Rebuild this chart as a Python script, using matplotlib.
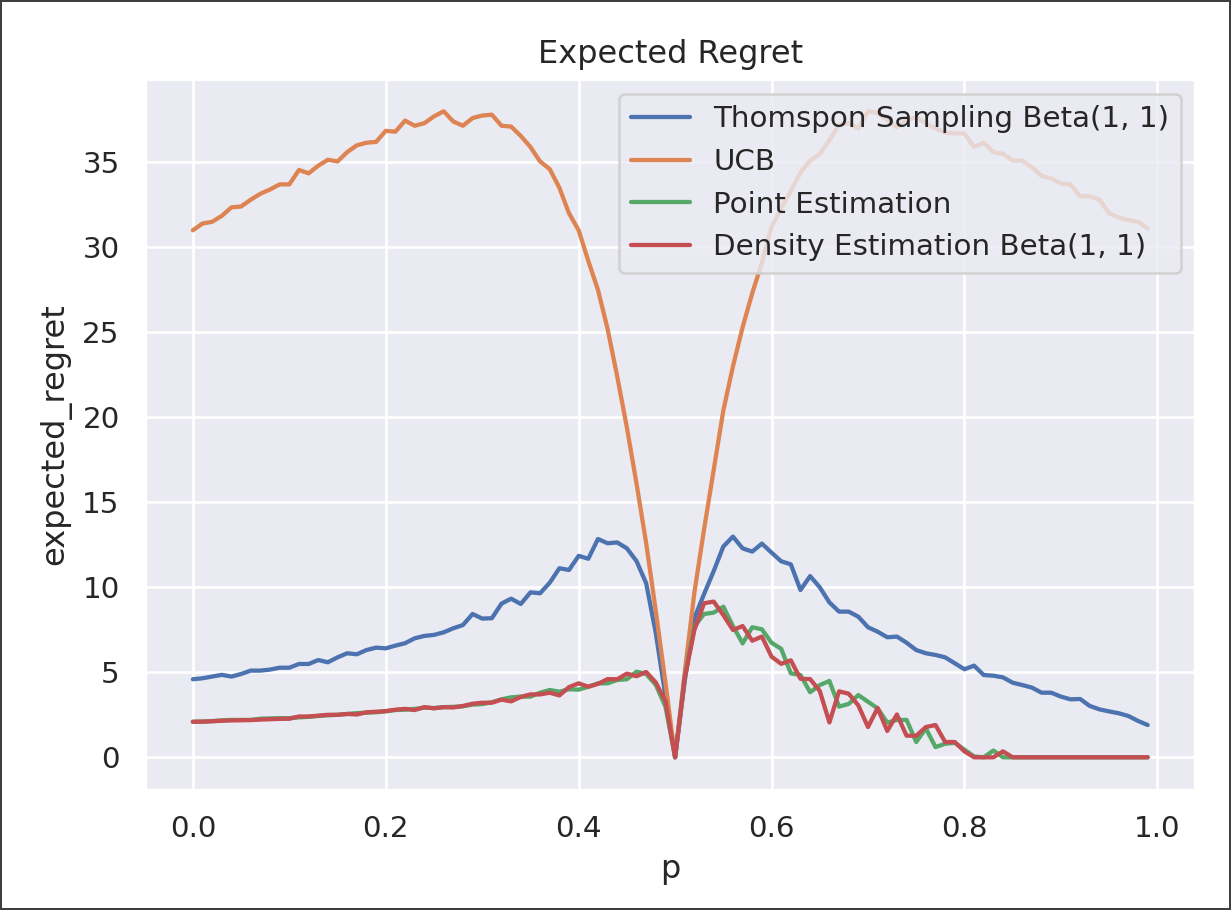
"""
Expected regret of the bandit strategies as a function of p.
"""

import matplotlib
matplotlib.use('Agg')
import matplotlib.pyplot as plt
import numpy as np
import seaborn as sns

p_values = np.arange(100) / 100

thompson = [
    4.59, 4.65, 4.75, 4.85, 4.75, 4.90, 5.10, 5.10, 5.16, 5.27,
    5.27, 5.49, 5.49, 5.72, 5.59, 5.88, 6.12, 6.06, 6.31, 6.45,
    6.41, 6.57, 6.71, 7.00, 7.14, 7.20, 7.35, 7.59, 7.78, 8.43,
    8.16, 8.18, 9.04, 9.33, 9.02, 9.70, 9.65, 10.27, 11.12, 11.02,
    11.85, 11.68, 12.84, 12.59, 12.64, 12.29, 11.54, 10.24, 7.30, 3.60,
    0.00, 4.50, 8.20, 9.60, 10.95, 12.40, 12.98, 12.29, 12.10, 12.57,
    12.04, 11.53, 11.35, 9.84, 10.66, 10.00, 9.11, 8.57, 8.57, 8.27,
    7.65, 7.39, 7.06, 7.10, 6.74, 6.31, 6.12, 6.02, 5.88, 5.53,
    5.18, 5.39, 4.84, 4.80, 4.70, 4.39, 4.25, 4.10, 3.80, 3.80,
    3.57, 3.41, 3.43, 3.02, 2.82, 2.70, 2.59, 2.43, 2.14, 1.90,
]

ucb = [
    31.00, 31.40, 31.50, 31.85, 32.35, 32.40, 32.80, 33.15, 33.40, 33.70,
    33.70, 34.55, 34.35, 34.80, 35.15, 35.05, 35.60, 36.00, 36.15, 36.20,
    36.85, 36.80, 37.45, 37.15, 37.30, 37.70, 38.00, 37.40, 37.15, 37.60,
    37.75, 37.80, 37.15, 37.10, 36.55, 35.90, 35.05, 34.60, 33.50, 32.00,
    31.00, 29.20, 27.50, 25.20, 22.40, 19.40, 16.10, 12.60, 8.60, 4.40,
    0.00, 5.00, 9.70, 13.40, 16.90, 20.40, 23.00, 25.30, 27.30, 29.10,
    31.20, 32.30, 33.30, 34.40, 35.10, 35.50, 36.30, 37.20, 37.30, 37.00,
    38.00, 37.90, 37.50, 37.05, 37.50, 37.65, 37.30, 37.00, 36.75, 36.70,
    36.70, 35.90, 36.15, 35.60, 35.50, 35.10, 35.10, 34.70, 34.20, 34.05,
    33.75, 33.70, 33.00, 33.00, 32.80, 32.00, 31.75, 31.60, 31.50, 31.10,
]

point_est = [
    2.09, 2.10, 2.13, 2.17, 2.20, 2.20, 2.20, 2.27, 2.29, 2.30,
    2.30, 2.35, 2.38, 2.43, 2.47, 2.50, 2.55, 2.60, 2.62, 2.65,
    2.70, 2.78, 2.80, 2.85, 2.92, 2.90, 2.95, 2.97, 3.00, 3.10,
    3.13, 3.24, 3.41, 3.53, 3.57, 3.57, 3.80, 3.96, 3.86, 4.00,
    3.98, 4.15, 4.35, 4.35, 4.55, 4.59, 5.04, 4.90, 4.26, 2.98,
    0.00, 4.74, 7.69, 8.43, 8.51, 8.86, 7.72, 6.70, 7.65, 7.53,
    6.74, 6.38, 4.94, 4.84, 3.83, 4.25, 4.49, 2.98, 3.14, 3.66,
    3.27, 2.88, 2.04, 2.20, 2.20, 0.90, 1.70, 0.60, 0.80, 0.85,
    0.45, 0.05, 0.00, 0.40, 0.00, 0.00, 0.00, 0.00, 0.00, 0.00,
    0.00, 0.00, 0.00, 0.00, 0.00, 0.00, 0.00, 0.00, 0.00, 0.00,
]

density_est = [
    2.09, 2.10, 2.12, 2.15, 2.17, 2.18, 2.19, 2.22, 2.24, 2.26,
    2.27, 2.40, 2.40, 2.45, 2.50, 2.50, 2.55, 2.52, 2.65, 2.68,
    2.72, 2.80, 2.85, 2.78, 2.95, 2.88, 2.95, 2.93, 3.02, 3.15,
    3.21, 3.21, 3.39, 3.29, 3.55, 3.70, 3.70, 3.80, 3.64, 4.13,
    4.35, 4.15, 4.32, 4.60, 4.59, 4.92, 4.77, 5.02, 4.40, 3.30,
    0.00, 4.65, 7.49, 9.06, 9.16, 8.37, 7.49, 7.72, 6.86, 7.10,
    5.92, 5.50, 5.70, 4.62, 4.60, 3.90, 2.05, 3.88, 3.74, 3.05,
    1.78, 2.90, 1.55, 2.52, 1.27, 1.27, 1.78, 1.90, 0.90, 0.90,
    0.35, 0.00, 0.00, 0.00, 0.35, 0.00, 0.00, 0.00, 0.00, 0.00,
    0.00, 0.00, 0.00, 0.00, 0.00, 0.00, 0.00, 0.00, 0.00, 0.00,
]

labels = ['Thomspon Sampling Beta(1, 1)', 'UCB', 'Point Estimation',
          'Density Estimation Beta(1, 1)']

sns.set_theme()

fig, ax = plt.subplots(figsize=(1231 / 192, 910 / 192), dpi=192)
fig.subplots_adjust(left=0.1179, right=0.9711, bottom=0.1323, top=0.9132)
# thin dark frame around the whole image, as in the screenshot
fig.patch.set_edgecolor('#3d4043')
fig.patch.set_linewidth(1.5)

for series, label in zip([thompson, ucb, point_est, density_est], labels):
    ax.plot(p_values, series, label=label, linewidth=1.6)

ax.set_title('Expected Regret')
ax.set_xlabel('p')
ax.set_ylabel('expected_regret')
ax.legend(loc='upper right')

fig.savefig('out.png', dpi=192, edgecolor=fig.get_edgecolor())
plt.close(fig)
